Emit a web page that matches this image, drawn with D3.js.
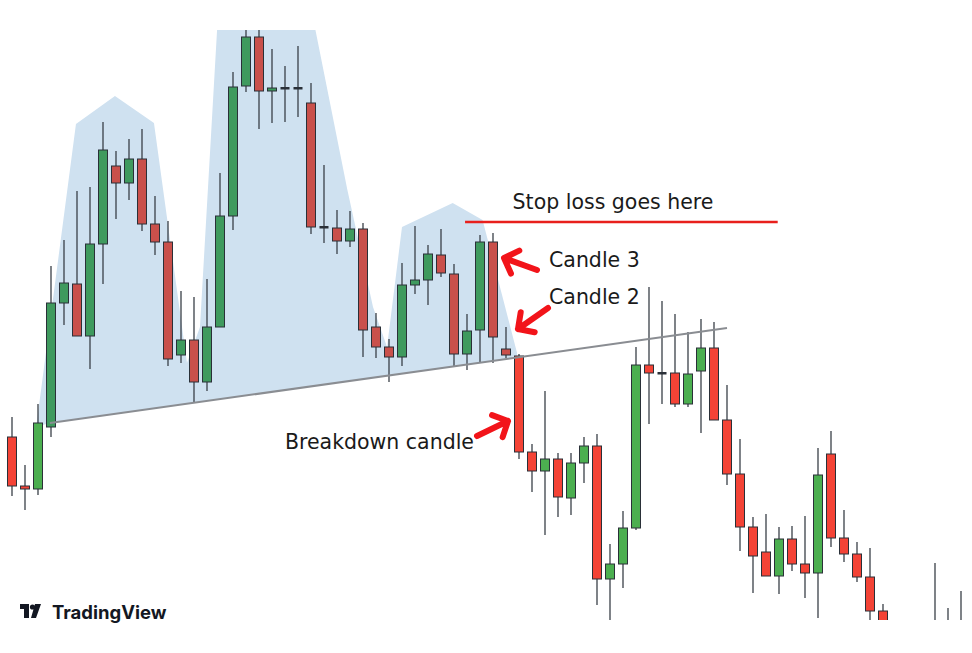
<!DOCTYPE html>
<html><head><meta charset="utf-8">
<script src="https://cdn.jsdelivr.net/npm/d3@7"></script>
<style>body{margin:0;background:#fff}</style></head>
<body><svg id="c" width="972" height="653"></svg>
<script>
// price units (arbitrary), one candle per index
const opens  = [216,167,164,226,350,369,317,409,487,470,494,429,411,298,313,271,326,437,567,616,562,565,565,550,426,425,412,424,326,306,296,368,373,398,379,299,323,411,304,297,201,182,194,155,190,207,74,89,125,288,280,280,249,282,305,233,179,126,101,77,114,89,80,199,115,99,76,42,25,10,0,20,15,10];
const highs  = [236,188,249,387,413,462,466,531,502,514,524,457,432,362,356,374,480,581,625,625,604,587,607,570,488,443,442,430,340,314,390,427,408,424,389,339,418,420,326,299,209,262,200,200,216,219,109,142,306,366,352,339,321,334,331,268,214,136,139,126,127,137,205,222,143,111,105,49,30,20,25,90,45,62];
const lows   = [157,143,158,216,328,317,284,369,434,453,422,398,287,290,251,262,326,423,561,524,530,531,536,419,410,399,406,296,295,271,287,359,348,376,287,283,291,290,295,194,161,118,136,138,170,48,33,65,123,229,249,246,246,220,233,168,102,60,77,59,82,55,35,106,91,71,28,-7,-10,-30,-40,-20,-20,-20];
const closes = [167,164,230,350,370,317,409,503,470,494,429,411,294,313,271,326,437,566,616,562,565,565,564,426,426,412,424,323,306,296,368,373,399,380,299,322,411,316,298,201,182,194,156,190,207,74,89,125,288,280,280,249,279,305,233,179,126,97,77,114,89,80,178,115,99,76,42,13,5,-15,-20,0,-5,25];
// annotation geometry in (index, price)
const shadeIdx   = [1.9,4.92,7.92,10.92,13.46,14.46,15.85,23.08,25.8,27.77,28.85,30,33.9,36.2,38.85];
const shadePrice = [230,529,557,530,290,326,640,640,463,346,306,426,450,433,300];
const necklineIdx = [2.92,55], necklinePrice = [230,325];
const stopIdx = [34.85,58.9], stopPrice = 431;

const svg = d3.select("#c");
const x = d3.scaleLinear().domain([0,73]).range([12,961]);
const y = d3.scaleLinear().domain([0,653]).range([653,0]);
svg.append("defs").append("clipPath").attr("id","cp").append("rect")
  .attr("x",0).attr("y",30).attr("width",972).attr("height",590);
const g = svg.append("g").attr("clip-path","url(#cp)");

const pts = shadeIdx.map((d,i)=>[x(d),y(shadePrice[i])]);
const nl = t => necklinePrice[0] + (t-necklineIdx[0])*(necklinePrice[1]-necklinePrice[0])/(necklineIdx[1]-necklineIdx[0]);
pts.push([x(38.85),y(nl(38.85))]);
pts.push([x(2.92),y(nl(2.92))]);
pts.push([x(1.9),y(nl(1.9)-2)]);
g.append("path").attr("d",d3.line()(pts)+"Z").attr("fill","#cfe1f0");

const n = opens.length;
const bw = 9;
for(let i=0;i<n;i++){
  const up = closes[i]>=opens[i];
  const muted = i>=3 && i<=38;
  const fill = up ? (muted?"#3f9a5e":"#4caf50") : (muted?"#c9504b":"#f44336");
  g.append("line").attr("x1",x(i)).attr("x2",x(i)).attr("y1",y(highs[i])).attr("y2",y(lows[i]))
    .attr("stroke","#3a4048").attr("stroke-width",1.3);
  const top = y(Math.max(opens[i],closes[i])), bot = y(Math.min(opens[i],closes[i]));
  const h = Math.max(bot-top,1.5);
  if(bot-top<2){
    g.append("rect").attr("x",x(i)-bw/2).attr("y",top-1).attr("width",bw).attr("height",2.5)
      .attr("fill","#2a3038");
  } else {
    g.append("rect").attr("x",x(i)-bw/2).attr("y",top).attr("width",bw).attr("height",h)
      .attr("fill",fill).attr("stroke","#2a3038").attr("stroke-width",1);
  }
}
g.append("line").attr("x1",x(necklineIdx[0])).attr("y1",y(necklinePrice[0]))
  .attr("x2",x(necklineIdx[1])).attr("y2",y(necklinePrice[1]))
  .attr("stroke","#8a8d92").attr("stroke-width",2);
svg.append("line").attr("x1",x(stopIdx[0])).attr("x2",x(stopIdx[1])).attr("y1",y(stopPrice)).attr("y2",y(stopPrice))
  .attr("stroke","#e8201c").attr("stroke-width",2.5);

const font = "'DejaVu Sans', Verdana, sans-serif";
const txt = (t,xx,yy,anchor)=>svg.append("text").attr("x",xx).attr("y",yy).attr("text-anchor",anchor||"start")
  .attr("font-family",font).attr("font-size",20.5).attr("fill","#1a1a1a").text(t);
txt("Stop loss goes here",613,209,"middle");
txt("Candle 3",549,267);
txt("Candle 2",549,304);
txt("Breakdown candle",474,449,"end");

function arrow(tx,ty,fx,fy){
  const a = Math.atan2(fy-ty,fx-tx), L=17, s=0.8;
  const p1=[tx+L*Math.cos(a+s),ty+L*Math.sin(a+s)], p2=[tx+L*Math.cos(a-s),ty+L*Math.sin(a-s)];
  svg.append("path").attr("d",`M${fx},${fy}L${tx},${ty}M${p1}L${tx},${ty}L${p2}`)
    .attr("fill","none").attr("stroke","#f2141a").attr("stroke-width",6).attr("stroke-linecap","round").attr("stroke-linejoin","round");
}
arrow(504,258,537,270);
arrow(518,329,548,308);
arrow(508,421,477,436);

const lg = svg.append("g").attr("transform","translate(20,604)");
lg.append("path").attr("d","M0,0H9V14H4V5H0Z M11,14L15,0H21L16,14Z").attr("fill","#131722");
lg.append("circle").attr("cx",12.5).attr("cy",3).attr("r",2.6).attr("fill","#131722");
svg.append("text").attr("x",52).attr("y",619).attr("font-family","Inter, 'Noto Sans', sans-serif")
  .attr("font-weight",700).attr("font-size",18.5).attr("fill","#131722").text("TradingView");
</script></body></html>
